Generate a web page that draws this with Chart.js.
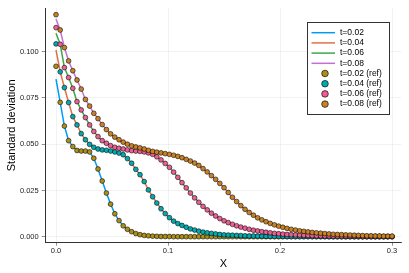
<!DOCTYPE html>
<html>
<head>
<meta charset="utf-8">
<script src="https://cdn.jsdelivr.net/npm/chart.js@4/dist/chart.umd.min.js"></script>
<style>
  html, body { margin: 0; padding: 0; background: #fff; }
  #wrap { width: 409px; height: 273px; }
</style>
</head>
<body>
<div id="wrap"><canvas id="chart" width="409" height="273"></canvas></div>
<script>
// grid positions (X)
const xs = [
  0, 0.00375, 0.0075, 0.01125, 0.015, 0.01875, 0.0225, 0.02625, 0.03, 0.03375,
  0.0375, 0.04125, 0.045, 0.04875, 0.0525, 0.05625, 0.06, 0.06375, 0.0675, 0.07125,
  0.075, 0.07875, 0.0825, 0.08625, 0.09, 0.09375, 0.0975, 0.10125, 0.105, 0.10875,
  0.1125, 0.11625, 0.12, 0.12375, 0.1275, 0.13125, 0.135, 0.13875, 0.1425, 0.14625,
  0.15, 0.15375, 0.1575, 0.16125, 0.165, 0.16875, 0.1725, 0.17625, 0.18, 0.18375,
  0.1875, 0.19125, 0.195, 0.19875, 0.2025, 0.20625, 0.21, 0.21375, 0.2175, 0.22125,
  0.225, 0.22875, 0.2325, 0.23625, 0.24, 0.24375, 0.2475, 0.25125, 0.255, 0.25875,
  0.2625, 0.26625, 0.27, 0.27375, 0.2775, 0.28125, 0.285, 0.28875, 0.2925, 0.29625,
  0.3
];

// reference values (markers)
const ref002 = [
  0.0921, 0.0726, 0.0598, 0.0519, 0.0487, 0.0466, 0.0463, 0.0463, 0.0458, 0.0424,
  0.0366, 0.0301, 0.0236, 0.0176, 0.0124, 0.0087, 0.0059, 0.0040, 0.0027, 0.0017,
  0.0011, 0.0007, 0.0005, 0.0003, 0.0002, 0.0001, 0.0001, 0.0001, 0, 0,
  0, 0, 0, 0, 0, 0, 0, 0, 0, 0,
  0, 0, 0, 0, 0, 0, 0, 0, 0, 0,
  0, 0, 0, 0, 0, 0, 0, 0, 0, 0,
  0, 0, 0, 0, 0, 0, 0, 0, 0, 0,
  0, 0, 0, 0, 0, 0, 0, 0, 0, 0,
  0
];
const ref004 = [
  0.1042, 0.0891, 0.0806, 0.0725, 0.0649, 0.0604, 0.0557, 0.0524, 0.0499, 0.0483,
  0.0474, 0.0469, 0.0467, 0.0463, 0.0458, 0.0452, 0.0443, 0.0422, 0.0397, 0.0364,
  0.0335, 0.0298, 0.0253, 0.0216, 0.0182, 0.0151, 0.0125, 0.0103, 0.0084, 0.0071,
  0.0061, 0.0051, 0.0042, 0.0036, 0.0030, 0.0025, 0.0021, 0.0018, 0.0015, 0.0012,
  0.0010, 0.0009, 0.0008, 0.0007, 0.0006, 0.0005, 0.0004, 0.0004, 0.0003, 0.0003,
  0.0002, 0.0002, 0.0002, 0.0002, 0.0002, 0.0001, 0.0001, 0.0001, 0.0001, 0.0001,
  0.0001, 0.0001, 0.0001, 0.0001, 0.0001, 0, 0, 0, 0, 0,
  0, 0, 0, 0, 0, 0, 0, 0, 0, 0,
  0
];
const ref006 = [
  0.1130, 0.1040, 0.0914, 0.0860, 0.0802, 0.0730, 0.0685, 0.0644, 0.0604, 0.0569,
  0.0541, 0.0519, 0.0505, 0.0492, 0.0483, 0.0478, 0.0474, 0.0469, 0.0465, 0.0463,
  0.0461, 0.0458, 0.0453, 0.0445, 0.0432, 0.0415, 0.0396, 0.0375, 0.0349, 0.0321,
  0.0292, 0.0264, 0.0236, 0.0210, 0.0186, 0.0164, 0.0145, 0.0127, 0.0112, 0.0098,
  0.0086, 0.0076, 0.0067, 0.0059, 0.0052, 0.0046, 0.0040, 0.0035, 0.0031, 0.0027,
  0.0024, 0.0021, 0.0018, 0.0016, 0.0014, 0.0012, 0.0011, 0.0010, 0.0009, 0.0008,
  0.0007, 0.0006, 0.0005, 0.0005, 0.0004, 0.0004, 0.0003, 0.0003, 0.0003, 0.0002,
  0.0002, 0.0002, 0.0002, 0.0001, 0.0001, 0.0001, 0.0001, 0.0001, 0.0001, 0.0001,
  0.0001
];
const ref008 = [
  0.1200, 0.1117, 0.1022, 0.0950, 0.0897, 0.0847, 0.0798, 0.0742, 0.0706, 0.0667,
  0.0638, 0.0606, 0.0579, 0.0556, 0.0538, 0.0524, 0.0511, 0.0500, 0.0491, 0.0485,
  0.0480, 0.0474, 0.0467, 0.0461, 0.0457, 0.0453, 0.0449, 0.0445, 0.0440, 0.0434,
  0.0427, 0.0418, 0.0409, 0.0398, 0.0385, 0.0368, 0.0350, 0.0330, 0.0310, 0.0288,
  0.0265, 0.0239, 0.0213, 0.0190, 0.0168, 0.0148, 0.0131, 0.0116, 0.0102, 0.0091,
  0.0081, 0.0072, 0.0064, 0.0057, 0.0051, 0.0045, 0.0040, 0.0036, 0.0032, 0.0029,
  0.0026, 0.0023, 0.0021, 0.0019, 0.0017, 0.0015, 0.0013, 0.0012, 0.0011, 0.0010,
  0.0009, 0.0008, 0.0007, 0.0006, 0.0005, 0.0005, 0.0004, 0.0004, 0.0003, 0.0003,
  0.0003
];

// the solution lines start a little lower than the ref points, then follow them
const lineStart = [0.0852, 0.1009, 0.1100, 0.1177];

const lineLabels = ['t=0.02', 't=0.04', 't=0.06', 't=0.08'];
const refLabels = ['t=0.02 (ref)', 't=0.04 (ref)', 't=0.06 (ref)', 't=0.08 (ref)'];
const xTicks = [0, 0.1, 0.2, 0.3];
const yTicks = [0, 0.025, 0.05, 0.075, 0.1];

const lineColors = ['#009afa', '#e36f47', '#3ea44e', '#c271d2'];
const refColors = ['#ac8e18', '#00aaae', '#ed5e93', '#c68225'];
const FONT = '"Liberation Sans", Arial, sans-serif';

const refs = [ref002, ref004, ref006, ref008];
const toPoints = arr => xs.map((x, i) => ({ x: x, y: arr[i] }));

const datasets = [];
refs.forEach((r, k) => {
  datasets.push({
    label: lineLabels[k],
    data: toPoints([lineStart[k]].concat(r.slice(1))),
    showLine: true,
    borderColor: lineColors[k],
    borderWidth: 1.5,
    pointRadius: 0,
    tension: 0,
    order: 10 + k
  });
});
refs.forEach((r, k) => {
  datasets.push({
    label: refLabels[k],
    data: toPoints(r),
    showLine: false,
    pointRadius: 2.4,
    pointBackgroundColor: refColors[k],
    pointBorderColor: 'rgba(0,0,0,0.8)',
    pointBorderWidth: 0.7,
    order: 4 - k
  });
});

const legendBox = {
  id: 'legendBox',
  afterDraw(chart) {
    const ctx = chart.ctx;
    ctx.save();
    ctx.fillStyle = '#fff';
    ctx.fillRect(307.5, 22.5, 82, 92);
    ctx.strokeStyle = '#333';
    ctx.lineWidth = 1;
    ctx.strokeRect(307.5, 22.5, 82, 92);
    ctx.font = '8.5px ' + FONT;
    ctx.textBaseline = 'middle';
    chart.data.datasets.forEach((ds, i) => {
      const y = 32.7 + i * 10.2;
      if (ds.showLine) {
        ctx.strokeStyle = ds.borderColor;
        ctx.lineWidth = 1.5;
        ctx.beginPath();
        ctx.moveTo(311.5, y);
        ctx.lineTo(335, y);
        ctx.stroke();
      } else {
        ctx.fillStyle = ds.pointBackgroundColor;
        ctx.strokeStyle = 'rgba(0,0,0,0.8)';
        ctx.lineWidth = 0.8;
        ctx.beginPath();
        ctx.arc(325, y, 3.3, 0, Math.PI * 2);
        ctx.fill();
        ctx.stroke();
      }
      ctx.fillStyle = '#000';
      ctx.fillText(ds.label, 340, y);
    });
    ctx.restore();
  }
};

new Chart(document.getElementById('chart'), {
  type: 'scatter',
  data: { datasets: datasets },
  options: {
    responsive: false,
    animation: false,
    devicePixelRatio: 1,
    layout: { padding: { left: 0, right: 8, top: 8, bottom: 0 } },
    plugins: { legend: { display: false }, tooltip: { enabled: false } },
    scales: {
      x: {
        type: 'linear',
        min: -0.0092,
        max: 0.308,
        afterBuildTicks: s => { s.ticks = xTicks.map(v => ({ value: v })); },
        afterFit: s => { s.height = 30.3; },
        grid: { color: 'rgba(0,0,0,0.09)', lineWidth: 0.6, tickLength: 3, tickColor: '#444' },
        border: { color: '#333', width: 1 },
        ticks: {
          callback: v => v.toFixed(1),
          font: { family: FONT, size: 7.5 },
          color: '#222',
          padding: 1,
          maxRotation: 0
        },
        title: { display: true, text: 'X', font: { family: FONT, size: 11 }, color: '#000', padding: { top: 0, bottom: 2 } }
      },
      y: {
        type: 'linear',
        min: -0.00324,
        max: 0.1236,
        afterBuildTicks: s => { s.ticks = yTicks.map(v => ({ value: v })); },
        afterFit: s => { s.width = 45.7; },
        grid: { color: 'rgba(0,0,0,0.09)', lineWidth: 0.6, tickLength: 4, tickColor: '#444' },
        border: { color: '#333', width: 1 },
        ticks: {
          callback: v => v.toFixed(3),
          font: { family: FONT, size: 7.5 },
          color: '#222',
          padding: 3
        },
        title: { display: true, text: 'Standard deviation', font: { family: FONT, size: 11 }, color: '#000', padding: { top: 5, bottom: 0 } }
      }
    }
  },
  plugins: [legendBox]
});
</script>
</body>
</html>
